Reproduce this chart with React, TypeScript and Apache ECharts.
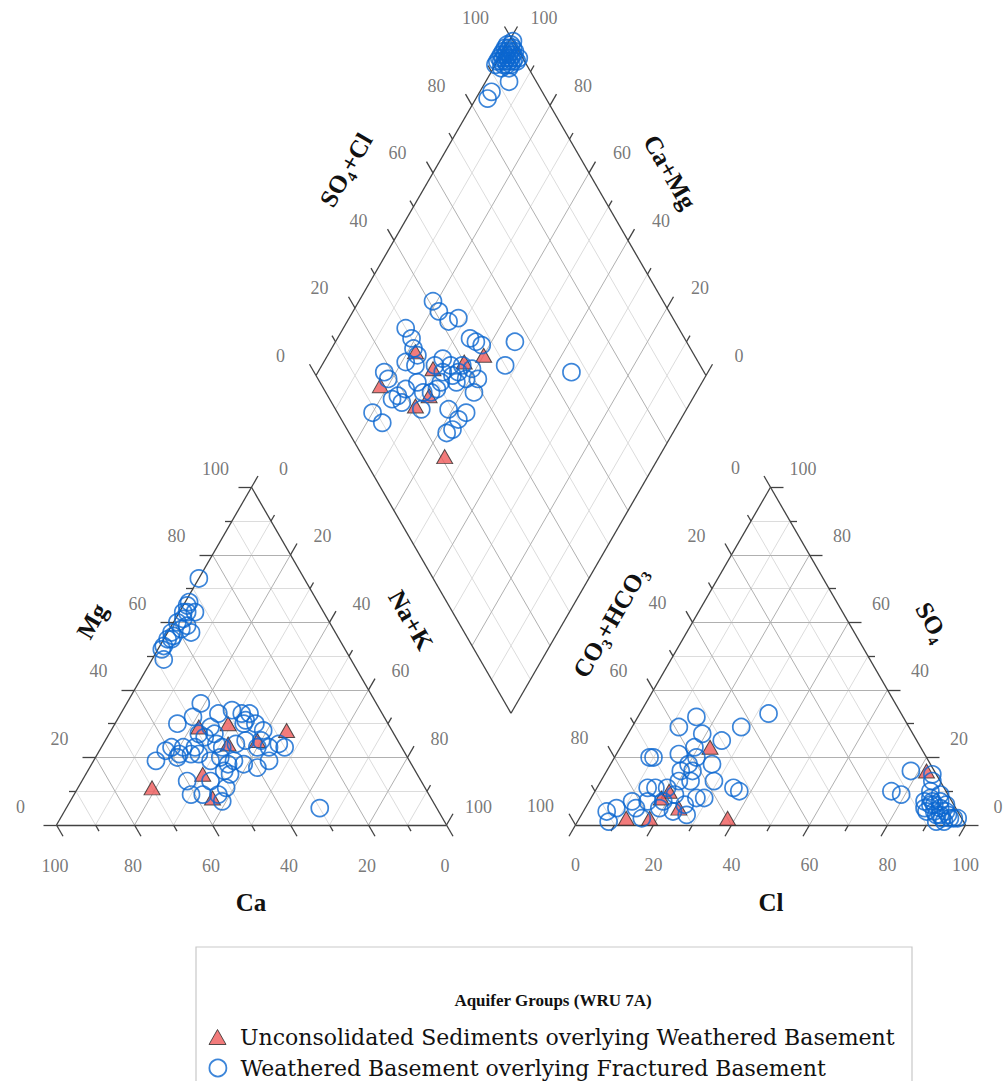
import React, { useEffect, useRef } from "react";
import * as echarts from "echarts";

// ---------------- DATA (percent of meq/L) ----------------
// Cation triangle points: [Ca, Mg]  (Na+K = 100 - Ca - Mg)
const cationSediments: number[][] = [
  [70, 11], [55, 15], [56, 8], [49, 29], [41, 30], [44, 24], [36, 25], [27, 28],
];
const cationBasement: number[][] = [
  [27, 73], [33, 66], [34, 65], [33, 63], [36, 63], [37, 61], [37, 59], [39, 60], [39, 58],
  [42, 57], [42, 56], [44, 55], [46, 53], [47, 52], [48, 49], [37, 57], [43, 55], [35, 63],
  [45, 36], [54, 30], [49, 32], [42, 33], [38, 34], [36, 33], [34, 33], [36, 31], [37, 30],
  [34, 30], [46, 29], [50, 27], [49, 26], [46, 27], [59, 23], [56, 23], [58, 21], [53, 23],
  [55, 21], [65, 19], [59, 20], [53, 21], [47, 24], [48, 20], [47, 18], [45, 19], [49, 16],
  [48, 15], [43, 18], [39, 25], [35, 25], [34, 23], [31, 24], [30, 23], [40, 17], [36, 19],
  [60, 13], [61, 9], [58, 9], [54, 9], [51, 11], [54, 7], [54, 13], [30, 5], [33, 28],
  [61, 22], [46, 23], [51, 19], [42, 24], [37, 23],
];
// Anion triangle points: [Cl, SO4]  (CO3+HCO3 = 100 - Cl - SO4)
const anionSediments: number[][] = [
  [23, 23], [19, 10], [18, 8], [24, 5], [18, 2], [12, 2], [38, 2], [82, 16],
];
const anionBasement: number[][] = [
  [15, 32], [12, 29], [19, 27], [28, 29], [25, 25], [19, 23], [10, 20], [9, 20], [16, 21],
  [20, 18], [22, 16], [26, 18], [19, 16], [29, 13], [35, 11], [37, 10], [13, 11], [15, 11],
  [18, 11], [20, 13], [27, 8], [29, 8], [21, 9], [19, 7], [11, 7], [13, 5], [8, 5], [6, 4],
  [8, 1], [16, 2], [23, 4], [25, 6], [23, 13], [21, 20], [15, 7], [19, 5], [33, 33], [27, 3],
  [78, 16], [84, 15], [85, 13], [76, 10], [79, 9], [86, 7], [88, 6], [88, 7], [91, 5],
  [93, 4], [91, 3], [88, 4], [94, 3], [96, 2], [94, 1], [92, 1], [87, 8], [90, 7], [92, 6],
  [87, 5], [86, 10], [89, 9], [97, 2], [90, 4], [92, 3], [89, 6], [95, 2], [93, 2],
];
// Diamond points: [Na+K, SO4+Cl]
const diamondSediments: number[][] = [
  [18, 15], [22, 29], [29, 31], [36, 40], [40, 46], [32, 26], [30, 21], [45, 21],
];
const diamondBasement: number[][] = [
  [19, 41], [22, 41], [28, 45], [26, 42], [16, 30], [19, 30], [21, 29], [34, 45], [36, 46],
  [38, 47], [46, 56], [47, 50], [21, 25], [24, 27], [17, 18], [19, 18], [30, 35], [33, 36],
  [32, 33], [36, 37], [39, 38], [42, 41], [37, 35], [33, 31], [27, 25], [25, 21], [24, 18],
  [23, 16], [26, 18], [20, 9], [24, 10], [32, 22], [33, 29], [43, 38], [39, 29], [44, 33],
  [43, 30], [43, 27], [42, 25], [30, 25], [32, 27], [39, 41], [23, 29], [65, 66], [35, 35],
  [36, 39], [29, 32],
  [1, 99], [1, 98], [2, 99], [0, 97], [2, 98], [3, 99], [0, 95], [2, 96], [3, 98], [5, 99],
  [0, 93], [2, 95], [3, 96], [0, 92], [2, 94], [5, 98], [4, 95], [6, 93], [3, 87], [3, 85],
  [1, 97], [2, 97], [0, 96], [1, 96], [3, 97], [4, 98], [1, 94], [2, 93], [4, 97], [0, 98],
  [1, 100], [3, 95], [4, 96], [1, 95], [0, 94],
];

const tickLabels = [0, 20, 40, 60, 80, 100];
const tickSteps = [0, 10, 20, 30, 40, 50, 60, 70, 80, 90, 100];
const gridSteps = [10, 20, 30, 40, 50, 60, 70, 80, 90];

const seriesSediments = "Unconsolidated Sediments overlying Weathered Basement";
const seriesBasement = "Weathered Basement overlying Fractured Basement";

// ---------------- GEOMETRY ----------------
const S = 390;
const H = (S * Math.sqrt(3)) / 2;
const BASE = 825;
const CAT = { bl: [56.5, BASE], br: [446.5, BASE], t: [251.5, BASE - H] };
const AN = { bl: [575.5, BASE], br: [965.5, BASE], t: [770.5, BASE - H] };
const DB = [511, BASE - 64.5 * Math.sqrt(3)];
const DL = [DB[0] - S / 2, DB[1] - H];
const DR = [DB[0] + S / 2, DB[1] - H];

const BLUE = "#0b67d0";
const RED = "#ef5a5a";
const EDGE = "#424242";
const SERIF = '"Liberation Serif", "Times New Roman", serif';

function cation(ca: number, mg: number): number[] {
  const na = 100 - ca - mg;
  return [
    (ca * CAT.bl[0] + mg * CAT.t[0] + na * CAT.br[0]) / 100,
    (ca * CAT.bl[1] + mg * CAT.t[1] + na * CAT.br[1]) / 100,
  ];
}
function anion(cl: number, so4: number): number[] {
  const hc = 100 - cl - so4;
  return [
    (hc * AN.bl[0] + so4 * AN.t[0] + cl * AN.br[0]) / 100,
    (hc * AN.bl[1] + so4 * AN.t[1] + cl * AN.br[1]) / 100,
  ];
}
function diamond(na: number, sc: number): number[] {
  const a = 1 - na / 100;
  const v = sc / 100;
  return [
    DB[0] + a * (DL[0] - DB[0]) + v * (DR[0] - DB[0]),
    DB[1] + a * (DL[1] - DB[1]) + v * (DR[1] - DB[1]),
  ];
}

function seg(p: number[], q: number[]) {
  return { coords: [p, q] };
}

function buildOption() {
  const major: any[] = [];
  const minor: any[] = [];
  gridSteps.forEach((p) => {
    const arr = p % 20 === 0 ? major : minor;
    arr.push(seg(cation(100 - p, p), cation(0, p)));
    arr.push(seg(cation(p, 0), cation(p, 100 - p)));
    arr.push(seg(cation(100 - p, 0), cation(0, 100 - p)));
    arr.push(seg(anion(0, p), anion(100 - p, p)));
    arr.push(seg(anion(p, 0), anion(p, 100 - p)));
    arr.push(seg(anion(100 - p, 0), anion(0, 100 - p)));
    arr.push(seg(diamond(p, 0), diamond(p, 100)));
    arr.push(seg(diamond(0, p), diamond(100, p)));
  });

  const edges: any[] = [
    seg(CAT.bl, CAT.br), seg(CAT.br, CAT.t), seg(CAT.t, CAT.bl),
    seg(AN.bl, AN.br), seg(AN.br, AN.t), seg(AN.t, AN.bl),
    seg(DB, DL), seg(DL, diamond(0, 100)), seg(diamond(0, 100), DR), seg(DR, DB),
  ];

  const c60 = 0.5;
  const s60 = Math.sqrt(3) / 2;
  const tick = (p: number[], d: number[], v: number) => {
    const len = v % 20 === 0 ? 13 : 7;
    return seg(p, [p[0] + d[0] * len, p[1] + d[1] * len]);
  };
  tickSteps.forEach((v) => {
    edges.push(tick(cation(v, 0), [c60, s60], v));
    edges.push(tick(cation(100 - v, v), [-1, 0], v));
    edges.push(tick(cation(0, 100 - v), [c60, -s60], v));
    edges.push(tick(anion(v, 0), [-c60, s60], v));
    edges.push(tick(anion(0, 100 - v), [-c60, -s60], v));
    edges.push(tick(anion(100 - v, v), [1, 0], v));
    edges.push(tick(diamond(0, v), [-c60, -s60], v));
    edges.push(tick(diamond(100 - v, 100), [c60, -s60], v));
  });

  const labels: any[] = [];
  const lab = (p: number[], dx: number, dy: number, v: number) =>
    labels.push({ name: String(v), value: [p[0] + dx, p[1] + dy] });
  tickLabels.forEach((v) => {
    lab(cation(v, 0), -1.5, 41, v);
    lab(cation(100 - v, v), -36, -18.5, v);
    lab(cation(0, 100 - v), 32, -18.5, v);
    lab(anion(v, 0), 0, 40, v);
    lab(anion(0, 100 - v), -35, -19, v);
    lab(anion(100 - v, v), 32.5, -18.5, v);
    lab(diamond(0, v), -35.5, -19.5, v);
    lab(diamond(100 - v, 100), 33, -19.5, v);
  });

  const triStyle = {
    symbol: "triangle",
    symbolSize: [16, 14],
    itemStyle: { color: RED, borderColor: "#2a2a2a", borderWidth: 1 },
  };
  const circStyle = {
    symbol: "circle",
    symbolSize: 17,
    itemStyle: { color: "rgba(0,0,0,0)", borderColor: BLUE, borderWidth: 1.7 },
  };
  const scatter = (name: string, data: number[][], style: any) => ({
    type: "scatter",
    name,
    data,
    ...style,
    silent: true,
    emphasis: { disabled: true },
  });

  const title = (text: string, x: number, y: number, rot: number) => ({
    type: "text",
    x,
    y,
    rotation: rot,
    style: {
      text,
      font: `bold 25px ${SERIF}`,
      fill: "#111",
      align: "center",
      verticalAlign: "middle",
    },
  });

  const R60 = Math.PI / 3;
  const legendText = {
    fontFamily: '"DejaVu Serif", serif',
    fontSize: 22,
    lineHeight: 26,
    color: "#111",
    padding: [0, 0, 0, 9],
  };

  return {
    animation: false,
    backgroundColor: "#ffffff",
    grid: { left: 0, right: 0, top: 0, bottom: 0 },
    xAxis: { type: "value", min: 0, max: 1004, show: false },
    yAxis: { type: "value", min: 0, max: 1081, inverse: true, show: false },
    legend: [
      {
        orient: "vertical",
        left: 203.5,
        top: 1019,
        itemWidth: 17,
        itemHeight: 15,
        selectedMode: false,
        textStyle: legendText,
        data: [
          {
            name: seriesSediments,
            icon: "triangle",
            itemStyle: { color: RED, borderColor: "#2a2a2a", borderWidth: 1 },
          },
        ],
      },
      {
        orient: "vertical",
        left: 203.5,
        top: 1050,
        itemWidth: 17,
        itemHeight: 17,
        selectedMode: false,
        textStyle: legendText,
        data: [
          {
            name: seriesBasement,
            icon: "circle",
            itemStyle: { color: "rgba(0,0,0,0)", borderColor: BLUE, borderWidth: 1.8 },
          },
        ],
      },
    ],
    graphic: [
      {
        type: "rect",
        shape: { x: 196, y: 947, width: 716, height: 160 },
        style: { fill: "none", stroke: "#c9c9c9", lineWidth: 1.2 },
        silent: true,
      },
      {
        type: "text",
        x: 553,
        y: 1000,
        style: {
          text: "Aquifer Groups (WRU 7A)",
          font: `bold 17px ${SERIF}`,
          fill: "#111",
          align: "center",
          verticalAlign: "middle",
        },
      },
      title("Ca", 251, 902, 0),
      title("Cl", 771, 902, 0),
      title("Mg", 92, 621, R60),
      title("Na+K", 411, 620, -R60),
      title("CO₃+HCO₃", 610, 622, R60),
      title("SO₄", 932, 622, -R60),
      title("SO₄+Cl", 346, 170, R60),
      title("Ca+Mg", 670, 172, -R60),
    ],
    series: [
      {
        type: "lines",
        coordinateSystem: "cartesian2d",
        silent: true,
        lineStyle: { color: "#dcdcdc", width: 1, opacity: 1 },
        data: minor,
      },
      {
        type: "lines",
        coordinateSystem: "cartesian2d",
        silent: true,
        lineStyle: { color: "#b0b0b0", width: 1, opacity: 1 },
        data: major,
      },
      {
        type: "lines",
        coordinateSystem: "cartesian2d",
        silent: true,
        lineStyle: { color: EDGE, width: 1.3, opacity: 1 },
        data: edges,
      },
      {
        type: "scatter",
        silent: true,
        symbolSize: 0,
        data: labels,
        label: {
          show: true,
          position: "inside",
          formatter: "{b}",
          color: "#555",
          fontSize: 18,
          fontFamily: SERIF,
          align: "center",
          verticalAlign: "middle",
        },
        emphasis: { disabled: true },
      },
      scatter(seriesSediments, cationSediments.map((d) => cation(d[0], d[1])), triStyle),
      scatter(seriesSediments, anionSediments.map((d) => anion(d[0], d[1])), triStyle),
      scatter(seriesSediments, diamondSediments.map((d) => diamond(d[0], d[1])), triStyle),
      scatter(seriesBasement, cationBasement.map((d) => cation(d[0], d[1])), circStyle),
      scatter(seriesBasement, anionBasement.map((d) => anion(d[0], d[1])), circStyle),
      scatter(seriesBasement, diamondBasement.map((d) => diamond(d[0], d[1])), circStyle),
    ],
  };
}

export default function App() {
  const ref = useRef<HTMLDivElement>(null);
  useEffect(() => {
    if (!ref.current) return;
    const chart = echarts.init(ref.current, null, { renderer: "svg" });
    chart.setOption(buildOption() as any);
    return () => chart.dispose();
  }, []);
  return (
    <div
      ref={ref}
      style={{ position: "absolute", left: 0, top: 0, width: 1004, height: 1081, background: "#fff" }}
    />
  );
}
